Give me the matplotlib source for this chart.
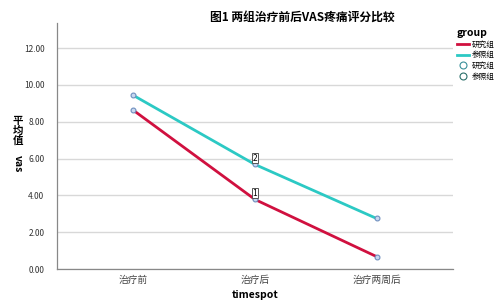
import matplotlib.pyplot as plt
from matplotlib.lines import Line2D

plt.rcParams['font.family'] = ['Noto Sans CJK SC', 'DejaVu Sans']

timespots = ['治疗前', '治疗后', '治疗两周后']
groups = ['研究组', '参照组']
vas_study = [8.62, 3.78, 0.68]
vas_ref = [9.43, 5.68, 2.75]
colors = ['#D0103F', '#2CC9C4']

fig = plt.figure(figsize=(4.99, 3.01), dpi=100)
ax = fig.add_axes([0.114, 0.106, 0.794, 0.818])

x = range(len(timespots))
for vals, c in zip([vas_study, vas_ref], colors):
    ax.plot(x, vals, color=c, lw=2, zorder=3)
    ax.plot(x, vals, 'o', ms=3.5, mfc='#c8d8f0', mec='#6f8fbf', mew=0.8, zorder=4)

# point labels on the middle timespot
for lab, v in zip(['1', '2'], [vas_study[1], vas_ref[1]]):
    ax.text(1, v + 0.1, lab, ha='center', va='bottom', fontsize=6, zorder=5,
            bbox=dict(boxstyle='square,pad=0.1', fc='white', ec='#555555', lw=0.7))

ax.set_xlim(-0.63, 2.63)
ax.set_ylim(0, 13.37)
ax.set_yticks([0, 2, 4, 6, 8, 10, 12])
ax.set_yticklabels(['%.2f' % t for t in [0, 2, 4, 6, 8, 10, 12]], fontsize=6, color='#333333')
ax.set_xticks(list(x))
ax.set_xticklabels(timespots, fontsize=7, color='#444444')
ax.tick_params(length=0, pad=9)
ax.tick_params(axis='x', pad=4)
ax.grid(axis='y', color='#d8d8d8', lw=1)
ax.set_axisbelow(True)
for s in ['top', 'right']:
    ax.spines[s].set_visible(False)
for s in ['left', 'bottom']:
    ax.spines[s].set_color('#888888')
    ax.spines[s].set_linewidth(0.9)

ax.set_xlabel('timespot', fontsize=7.5, fontweight='bold', labelpad=4)
fig.text(0.606, 0.943, '图1 两组治疗前后VAS疼痛评分比较', ha='center', va='center',
         fontsize=8.5, fontweight='bold')

# stacked y label
fig.text(0.036, 0.565, '平\n均\n值', ha='center', va='center', fontsize=7.5,
         fontweight='bold', linespacing=1.0)
fig.text(0.036, 0.455, 'vas', ha='center', va='center', fontsize=7.5,
         fontweight='bold', rotation=270)

handles = [Line2D([], [], color=colors[0], lw=2),
           Line2D([], [], color=colors[1], lw=2),
           Line2D([], [], ls='', marker='o', ms=5, mfc='none', mec='#3a8f9a', mew=0.8),
           Line2D([], [], ls='', marker='o', ms=5, mfc='none', mec='#2a6f6a', mew=0.8)]
leg = fig.legend(handles, groups + groups, loc='upper left', bbox_to_anchor=(0.908, 0.92),
                 frameon=False, fontsize=5.5, title='group', handlelength=1.6,
                 handletextpad=0.4, labelspacing=0.35, borderpad=0, handleheight=0.5)
leg.get_title().set_fontweight('bold')
leg.get_title().set_fontsize(7.5)
leg._legend_box.align = 'left'

fig.savefig('out.png', dpi=100)
